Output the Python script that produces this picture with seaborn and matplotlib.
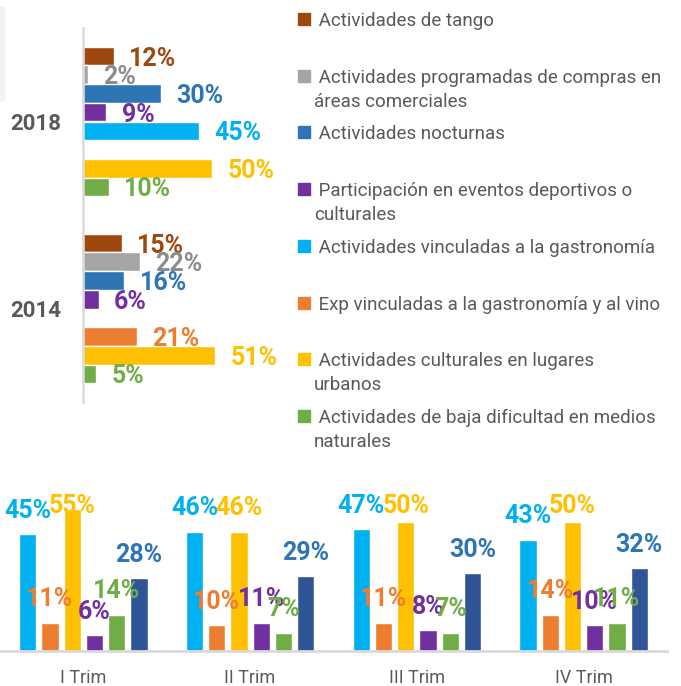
import numpy as np
import pandas as pd
import matplotlib.pyplot as plt
from matplotlib.patches import Rectangle
import seaborn as sns

# categorias (orden de la leyenda)
categorias = ['Actividades de tango',
              'Actividades programadas de compras en áreas comerciales',
              'Actividades nocturnas',
              'Participación en eventos deportivos o culturales',
              'Actividades vinculadas a la gastronomía',
              'Exp vinculadas a la gastronomía y al vino',
              'Actividades culturales en lugares urbanos',
              'Actividades de baja dificultad en medios naturales']
etiquetas_leyenda = [' Actividades de tango',
                     ' Actividades programadas de compras en\náreas comerciales',
                     ' Actividades nocturnas',
                     ' Participación en eventos deportivos o\nculturales',
                     ' Actividades vinculadas a la gastronomía',
                     ' Exp vinculadas a la gastronomía y al vino',
                     ' Actividades culturales en lugares\nurbanos',
                     ' Actividades de baja dificultad en medios\nnaturales']
colores = ['#9E480E', '#A5A5A5', '#2E75B6', '#7030A0',
           '#00B0F0', '#ED7D31', '#FFC000', '#70AD47']
colores_texto = ['#9E480E', '#8C8C8C', '#2E75B6', '#7030A0',
                 '#00B0F0', '#ED7D31', '#FFC000', '#70AD47']

anios = ['2018', '2014']
valores_2018 = [12, 2, 30, 9, 45, np.nan, 50, 10]
valores_2014 = [15, 22, 16, 6, np.nan, 21, 51, 5]

# grafico trimestral
trimestres = ['I Trim', 'II Trim', 'III Trim', 'IV Trim']
cats_trim = ['Actividades vinculadas a la gastronomía',
             'Exp vinculadas a la gastronomía y al vino',
             'Actividades culturales en lugares urbanos',
             'Participación en eventos deportivos o culturales',
             'Actividades de baja dificultad en medios naturales',
             'Actividades nocturnas']
gastronomia = [45, 46, 47, 43]
vino = [11, 10, 11, 14]
culturales = [55, 46, 50, 50]
deportivos = [6, 11, 8, 10]
naturales = [14, 7, 7, 11]
nocturnas = [28, 29, 30, 32]
colores_trim = ['#00B0F0', '#ED7D31', '#FFC000', '#7030A0', '#70AD47', '#2F5597']
colores_trim_texto = ['#00B0F0', '#ED7D31', '#FFC000', '#7030A0', '#70AD47', '#2E75B6']

sns.set_style('white')
plt.rcParams['font.family'] = ['Roboto', 'DejaVu Sans']
gris = '#595959'

df_top = pd.DataFrame({
    'anio': ['2018'] * 8 + ['2014'] * 8,
    'categoria': categorias * 2,
    'valor': valores_2018 + valores_2014,
})
series_trim = [gastronomia, vino, culturales, deportivos, naturales, nocturnas]
df_bot = pd.DataFrame({
    'trimestre': trimestres * len(cats_trim),
    'categoria': [c for c in cats_trim for _ in trimestres],
    'valor': [v for s in series_trim for v in s],
})

W, H = 681, 686
fig = plt.figure(figsize=(W / 100, H / 100), dpi=100)

# --- barras horizontales 2018 / 2014 ---
ax1 = fig.add_axes([83 / W, (H - 402) / H, 207 / W, 374 / H])
sns.barplot(data=df_top, x='valor', y='anio', hue='categoria', order=anios,
            hue_order=categorias, palette=colores, saturation=1, orient='h',
            errorbar=None, legend=False, width=0.8, ax=ax1)
ax1.set_xlim(0, 80)
ax1.set_ylim(1.5, -0.5)
ax1.set_xlabel('')
ax1.set_ylabel('')
ax1.set_xticks([])
for s in ['top', 'right', 'bottom']:
    ax1.spines[s].set_visible(False)
ax1.spines['left'].set_color('#D9D9D9')
ax1.spines['left'].set_linewidth(1.8)
ax1.tick_params(axis='y', length=0, pad=16)
for t in ax1.get_yticklabels():
    t.set_fontsize(16)
    t.set_fontweight('bold')
    t.set_color(gris)

for cont, col in zip(ax1.containers, colores_texto):
    for bar in cont:
        w = bar.get_width()
        if np.isnan(w):
            continue
        ax1.annotate(f'{w:.0f}%', (w, bar.get_y() + bar.get_height() / 2),
                     xytext=(11, 0), textcoords='offset points',
                     ha='left', va='center_baseline', fontsize=18,
                     fontweight='bold', color=col, annotation_clip=False)

# leyenda a mano, cada linea en su sitio
for i, (lab, col) in enumerate(zip(etiquetas_leyenda, colores)):
    base = 26 + i * 56.7
    fig.patches.append(Rectangle((298 / W, 1 - (base - 1) / H), 12 / W, 12 / H,
                                 transform=fig.transFigure, color=col))
    for k, linea in enumerate(lab.split('\n')):
        fig.text(314 / W, 1 - (base + k * 24) / H, linea, fontsize=13.5,
                 color=gris, va='baseline', ha='left')

fig.patches.append(Rectangle((0, 1 - 100 / H), 4 / W, 93 / H,
                             transform=fig.transFigure, color='#F2F2F2'))

# --- barras verticales por trimestre ---
ax2 = fig.add_axes([0, (H - 651) / H, 667 / W, 181 / H])
sns.barplot(data=df_bot, x='trimestre', y='valor', hue='categoria',
            order=trimestres, hue_order=cats_trim, palette=colores_trim,
            saturation=1, errorbar=None, legend=False, gap=0.22, ax=ax2)
ax2.set_xlim(-0.5, 3.5)
ax2.set_ylim(0, 69.9)
ax2.set_xlabel('')
ax2.set_ylabel('')
ax2.set_yticks([])
for s in ['top', 'right', 'left']:
    ax2.spines[s].set_visible(False)
ax2.spines['bottom'].set_color('#D9D9D9')
ax2.spines['bottom'].set_linewidth(2)
ax2.tick_params(axis='x', length=0, pad=13, labelsize=13, labelcolor=gris)

for cont, col in zip(ax2.containers, colores_trim_texto):
    for bar in cont:
        h = bar.get_height()
        # etiqueta encima de la barra, sin salirse del area del grafico
        y = min(h + 10, 57)
        ax2.text(bar.get_x() + bar.get_width() / 2, y, f'{h:.0f}%',
                 ha='center', va='center_baseline', fontsize=18,
                 fontweight='bold', color=col)

fig.savefig('out.png', dpi=100)
